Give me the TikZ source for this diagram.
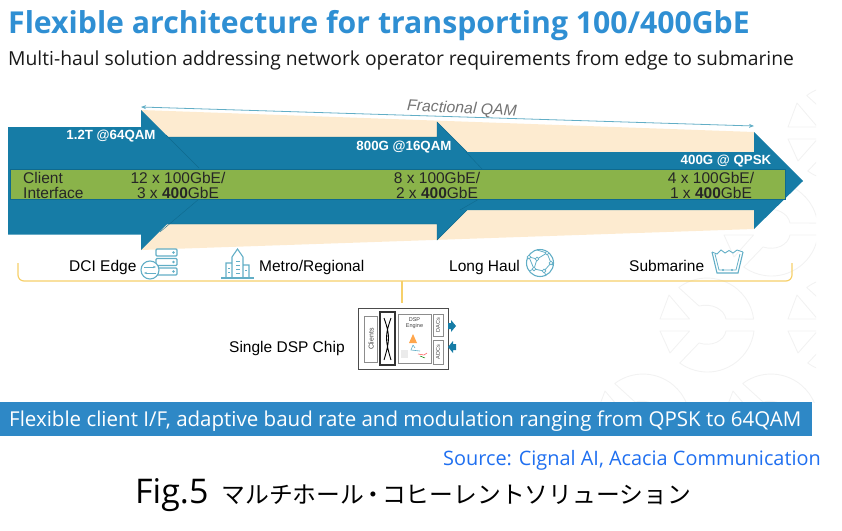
\documentclass[tikz,border=0pt]{standalone}
\usepackage{fontspec}
\setmainfont{Liberation Sans}
\newfontfamily\ttl{Open Sans}
\newfontfamily\jp{Noto Sans CJK JP}
\usetikzlibrary{arrows.meta}
\definecolor{arrowblue}{HTML}{167CA6}
\definecolor{edgeblue}{HTML}{0F6A8E}
\definecolor{beige}{HTML}{FDEBD0}
\definecolor{bandgreen}{HTML}{8AB34A}
\definecolor{titleblue}{HTML}{2F8FD3}
\definecolor{banner}{HTML}{2E88C6}
\definecolor{brk}{HTML}{F6D06A}
\definecolor{teal}{HTML}{62AEC6}
\definecolor{faint}{HTML}{F2F2F2}
\definecolor{src}{HTML}{1F6FF0}
\newcommand{\fs}[1]{\fontsize{#1}{#1}\selectfont}
\tikzset{
  lab/.style={inner sep=0pt,anchor=base west,text=black,font=\fs{15.5}},
  capt/.style={inner sep=0pt,text=white,font=\bfseries\fs{13.3}},
  cli/.style={inner sep=0pt,align=center,text=black!85,font=\fs{15.5}},
  ic/.style={draw=teal,line width=1.1pt},
  chip/.style={draw=black!70,line width=.8pt},
  tinylab/.style={inner sep=0pt,text=black!75,font=\fs{5.5}},
  bg/.style={draw=faint,line width=.9pt,line join=round}
}
\begin{document}
\begin{tikzpicture}[x=1pt,y=-1pt]
\useasboundingbox (0,0) rectangle (842,530);
% faint background motif
\begin{scope}
\clip (600,0) rectangle (816,402);
\foreach \cx/\cy in {835/133,771/229,707/325,835/325,643/421,771/421}{
\begin{scope}[shift={(\cx,\cy)}]
\draw[bg] (-28.3,-37.5) arc (-127:-7.3:47) -- (19,-6) .. controls (17,-16) and (5,-22) .. (-8,-19) -- cycle;
\draw[bg] (47,6) arc (7.3:126:47) -- (-8,18) .. controls (5,22) and (17,16) .. (19,6) -- cycle;
\draw[bg] (-47,-6) -- (-38,-30) -- (-17.5,-6) -- cycle;
\draw[bg] (-47,6) -- (-17.5,6) -- (-37,28) -- cycle;
\end{scope}}
\end{scope}
% beige taper
\fill[beige] (141,110) -- (754,132) -- (754,229) -- (141,250) -- cycle;
% arrows
\path[fill=arrowblue,draw=edgeblue,line width=.4pt] (141,137) -- (437,137) -- (437,122) -- (496,181) -- (437,240) -- (437,224) -- (141,224) -- cycle;
\fill[arrowblue] (8,127) -- (141,127) -- (141,110) -- (211,180) -- (141,250) -- (141,234.5) -- (8,234.5) -- cycle;
\draw[edgeblue,line width=.4pt] (166,135) -- (199,168) (199,199) -- (160,232);
\fill[arrowblue] (437,152) -- (754,152) -- (754,132) -- (803,181) -- (754,229) -- (754,210) -- (437,210) -- cycle;
\draw[edgeblue,line width=.4pt] (466,152) -- (483,170) (479,199) -- (460,210);
\draw[edgeblue,line width=.4pt,fill=bandgreen] (10,169.5) rectangle (785,199);
% fractional
\coordinate (fl) at (141,107);
\coordinate (fr) at (754,126);
\draw[{Stealth[length=5pt,width=4pt]}-{Stealth[length=5pt,width=4pt]},draw=teal,line width=.8pt] (fl) -- (fr);
\node[inner sep=0pt,rotate=-3,text=black!55,font=\itshape\fs{15.8}] (fq) at (462,109) {Fractional QAM};
% captions
\node[capt] (c1) at (111,136) {1.2T @64QAM};
\node[capt] (c2) at (404,147) {800G @16QAM};
\node[capt] (c3) at (726,161) {400G @ QPSK};
\node[inner sep=0pt,anchor=west,text=black!85,font=\fs{15.5},align=left] (cl) at (23,185) {Client\\[-0.5pt]Interface};
\node[cli] (r1) at (178,185) {12 x 100GbE/\\[-0.5pt]3 x \textbf{400}GbE};
\node[cli] (r2) at (437,185) {8 x 100GbE/\\[-0.5pt]2 x \textbf{400}GbE};
\node[cli] (r3) at (711,185) {4 x 100GbE/\\[-0.5pt]1 x \textbf{400}GbE};
% bracket
\coordinate (bl) at (18,263);
\coordinate (br) at (792,263);
\coordinate (bt) at (402,303);
\draw[brk,line width=1.2pt] (bl) -- (18,275) arc (180:90:6) -- (786,281) arc (90:0:6) -- (br);
\draw[brk,line width=1.8pt] (402,281) -- (bt);
% labels
\node[lab] (l1) at (69,271.5) {DCI Edge};
\node[lab] (l2) at (259,271.5) {Metro/Regional};
\node[lab] (l3) at (449,271.5) {Long Haul};
\node[lab] (l4) at (629,271.5) {Submarine};
% DCI icon
\foreach \y in {249,258.5,268}{\draw[ic,rounded corners=1pt] (156,\y) rectangle (177,\y+7); \fill[teal] (173.5,\y+3.5) circle (1.4);}
\draw[ic,fill=white] (150,270) circle (9);
\draw[ic,line width=.7pt,-{Stealth[length=3pt]}] (144,267) -- (156,267);
\draw[ic,line width=.7pt,-{Stealth[length=3pt]}] (156,273) -- (144,273);
% metro icon
\draw[ic] (221,278) -- (254,278);
\draw[ic] (226,278) -- (226,263) -- (232,263) (232,278) -- (232,257) -- (237.5,249) -- (243,257) -- (243,278) (243,265) -- (249,265) -- (249,278);
\draw[ic,line width=.7pt] (236,261) -- (240,261) (236,265) -- (240,265) (236,269) -- (240,269) (236,273) -- (240,273) (228,268) -- (230,268) (228,272) -- (230,272) (245,270) -- (247,270);
% long haul icon
\draw[ic] (540,263) circle (13.5);
\draw[ic,line width=.8pt] (529,257) -- (537,259) -- (547,253) -- (551,263) -- (544,271) -- (534,269) -- (537,259) (534,269) -- (529,257) (547,253) -- (537,250) (544,271) -- (546,276) (534,269) -- (529,271) (551,263) -- (553,265);
\foreach \p in {(537,259),(547,253),(551,263),(544,271),(534,269),(529,257)} \draw[ic,line width=.7pt,fill=white] \p circle (1.8);
% submarine icon
\draw[ic] (712,252) -- (717,273) -- (738,273) -- (743,252);
\draw[ic,line width=.8pt] (715,254) -- (719,270) -- (736,270) -- (740,254);
\draw[ic,line width=.9pt] (712,252) -- (717,254) -- (721,250) -- (725,253) -- (729,250.5) -- (733,253) -- (737,250) -- (743,252);
\fill[teal] (723,270) circle (1.1) (732,270) circle (1.1);
% chip
\node[lab] (dsp) at (229,352) {Single DSP Chip};
\draw[chip] (358,308) rectangle (448,369);
\draw[chip,line width=.6pt,draw=black!45] (364.5,316) rectangle (377,362);
\node[tinylab,rotate=90,font=\fs{7}] (clients) at (371,339) {Clients};
\draw[black!80,line width=1.2pt] (380,312) rectangle (395,365);
\draw[black,line width=.9pt] (384,318) .. controls (390,335) and (390,340) .. (384,360) (391,318) .. controls (385,335) and (385,340) .. (391,360);
\draw[chip,line width=.6pt,draw=black!45] (398,314) rectangle (431,363);
\node[tinylab,align=center] (eng) at (414.5,323) {DSP\\Engine};
\fill[orange!70] (409,343) -- (413,334) -- (417,343) -- cycle;
\draw[teal,line width=.6pt] (413,345) -- (411,350) -- (420,351) (413,345) -- (415,348);
\fill[black!8] (401,350) rectangle (408,358);
\draw[red!60,line width=.6pt] (418,354) -- (424,355) -- (427,353);
\draw[green!50!black,line width=.5pt] (420,356) -- (425,358);
\draw[chip,line width=.6pt,draw=black!45] (433,314) rectangle (443,336);
\draw[chip,line width=.6pt,draw=black!45] (433,340) rectangle (443,364);
\node[tinylab,rotate=90] (dac) at (438,325) {DACs};
\node[tinylab,rotate=90] (adc) at (438,352) {ADCs};
\fill[arrowblue] (448,323) -- (451,323) -- (451,320) -- (456,326) -- (451,332) -- (451,329) -- (448,329) -- cycle;
\fill[arrowblue] (456,344) -- (453,344) -- (453,341) -- (448,347) -- (453,353) -- (453,350) -- (456,350) -- cycle;
% banner
\fill[banner] (0,402) rectangle (812,436);
\node[inner sep=0pt,anchor=base west,text=white,font=\ttl\fs{20.5}] (bn) at (9,426) {Flexible client I/F, adaptive baud rate and modulation ranging from QPSK to 64QAM};
% title
\node[inner sep=0pt,anchor=base west,text=titleblue,font=\ttl\bfseries\fs{30.2}] (title) at (8,33) {Flexible architecture for transporting 100/400GbE};
\node[inner sep=0pt,anchor=base west,text=black!90,font=\ttl\fs{19.3}] (sub) at (8,65) {Multi-haul solution addressing network operator requirements from edge to submarine};
% source
\node[inner sep=0pt,anchor=base west,text=src,font=\ttl\fs{19.9}] (so) at (443,465) {Source: Cignal AI, Acacia Communication};
\node[inner sep=0pt,anchor=base west,text=black,font=\jp\fs{23.8}] (fig) at (135,503) {{\ttl\fs{34}Fig.5}\hspace{13pt}マルチホール\hspace{-3pt}・\hspace{-3pt}コヒーレントソリューション};
\end{tikzpicture}
\end{document}
